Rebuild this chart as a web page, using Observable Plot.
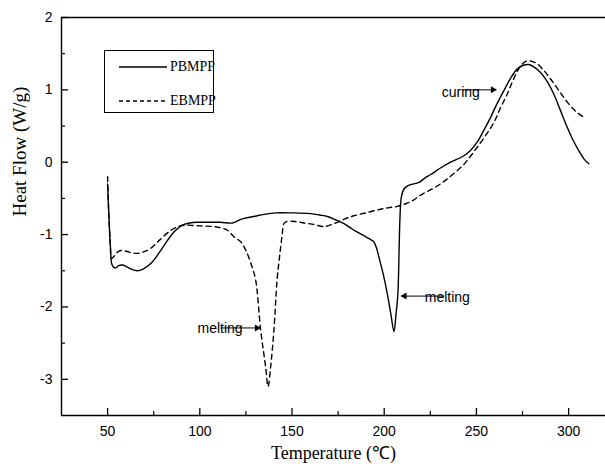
<!DOCTYPE html>
<html>
<head>
<meta charset="utf-8">
<script src="https://cdn.jsdelivr.net/npm/d3@7"></script>
<script src="https://cdn.jsdelivr.net/npm/@observablehq/plot@0.6"></script>
<style>
  body { margin: 0; background: #fff; }
  #wrap { position: relative; width: 605px; height: 470px; }
  #legend { position: absolute; left: 104px; top: 50px; width: 110px; height: 63px;
    border: 1px solid #000; box-sizing: border-box; font-family: "Liberation Serif", serif; font-size: 14px; line-height: 16px; }
  #legend .row { position: absolute; left: 13px; display: flex; align-items: center; height: 16px; }
  #legend svg { margin-right: 2px; }
</style>
</head>
<body>
<div id="wrap"></div>
<script>
// ---- data ----
const tempPBMPP = [50,50.8,51.6,52.2,53.2,54.4,56,58,60,63,66.2,69,73.4,78,82.5,86.5,90.6,94.5,98.7,105,111.3,117.7,122.2,129.4,135,141.2,150,160.1,165,169.2,174,178.2,183,187.2,192.6,194.4,196,197.1,199.5,201.7,203.6,205.3,206.4,207.4,208,208.5,209.3,210.7,212.5,214.3,218.8,222,225.2,230.5,236,243.2,247,250.5,254,257.7,261,264.9,268.5,272.2,275.5,278.4,281.5,284.8,288.5,292,295.5,299.3,302.5,305.5,308.5,311];
const hfPBMPP = [-0.30,-0.80,-1.20,-1.40,-1.45,-1.46,-1.43,-1.42,-1.44,-1.48,-1.50,-1.48,-1.40,-1.25,-1.08,-0.95,-0.87,-0.84,-0.83,-0.83,-0.83,-0.84,-0.79,-0.75,-0.72,-0.70,-0.70,-0.71,-0.73,-0.75,-0.80,-0.85,-0.93,-0.99,-1.07,-1.10,-1.20,-1.31,-1.55,-1.82,-2.10,-2.34,-2.10,-1.82,-1.30,-0.80,-0.48,-0.37,-0.33,-0.31,-0.28,-0.22,-0.17,-0.08,0.00,0.09,0.17,0.28,0.44,0.62,0.80,0.99,1.16,1.29,1.34,1.35,1.31,1.24,1.11,0.94,0.72,0.48,0.30,0.16,0.04,-0.02];

const tempEBMPP = [50,50.6,51.4,52.2,53.5,55,57.1,60,63,66.2,69.5,73.4,78,84.3,88,91.5,100,107.7,112,115,118.5,122.2,125,128,130.3,133,135.7,137,138.4,140.2,141.9,143.5,144.6,145.6,147,152,156.5,162,167.3,170.5,174.6,179,183.6,190,196.3,202,207.1,212,216.1,220,225.2,230.5,234.2,238.5,243.2,247,250.5,255,259.5,263,266.7,269.5,272.2,275,277.6,280.5,283,286.5,290.2,294.5,299.3,304,308.3];
const hfEBMPP = [-0.20,-0.70,-1.10,-1.33,-1.30,-1.25,-1.22,-1.23,-1.25,-1.26,-1.24,-1.19,-1.08,-0.94,-0.89,-0.87,-0.88,-0.89,-0.91,-0.94,-1.03,-1.10,-1.22,-1.42,-1.63,-2.32,-2.83,-3.10,-2.83,-2.32,-1.63,-1.25,-1.02,-0.85,-0.82,-0.82,-0.84,-0.86,-0.89,-0.87,-0.83,-0.78,-0.74,-0.70,-0.66,-0.63,-0.61,-0.57,-0.52,-0.45,-0.38,-0.30,-0.23,-0.14,-0.03,0.09,0.21,0.37,0.55,0.75,0.94,1.11,1.26,1.36,1.40,1.39,1.36,1.27,1.15,1.00,0.83,0.70,0.62];

const seriesNames = ["PBMPP", "EBMPP"];
const xMajorTicks = [50, 100, 150, 200, 250, 300];
const xMinorTicks = [75, 125, 175, 225, 275];
const yMajorTicks = [-3, -2, -1, 0, 1, 2];
const yMinorTicks = [-2.5, -1.5, -0.5, 0.5, 1.5];
const xTitle = "Temperature (\u2103)";
const yTitle = "Heat Flow (W/g)";

// annotations: label, text anchor point, arrow from -> to (data units)
const annoLabels = ["curing", "melting", "melting"];
const annoTextX = [241.5, 111.0, 234.2];
const annoTextY = [0.97, -2.30, -1.87];
const annoTextAnchor = ["end", "end", "start"];
const annoArrowX1 = [242.0, 111.3, 232.6];
const annoArrowX2 = [260.6, 132.6, 209.4];
const annoArrowY = [1.00, -2.29, -1.85];

// ---- build ----
const rowsP = tempPBMPP.map((t, i) => ({t, v: hfPBMPP[i], s: seriesNames[0]}));
const rowsE = tempEBMPP.map((t, i) => ({t, v: hfEBMPP[i], s: seriesNames[1]}));
const annos = annoLabels.map((l, i) => ({l, tx: annoTextX[i], ty: annoTextY[i], anchor: annoTextAnchor[i],
  x1: annoArrowX1[i], x2: annoArrowX2[i], y: annoArrowY[i], right: annoArrowX2[i] > annoArrowX1[i]}));

const W = 605, H = 470, mL = 61, mR = 0, mT = 17, mB = 55;
const fw = W - mL - mR, fh = H - mT - mB;
const sans = "'Liberation Sans', Arial, sans-serif";
const serif = "'Liberation Serif', 'Times New Roman', serif";

const chart = Plot.plot({
  width: W, height: H,
  marginLeft: mL, marginRight: mR, marginTop: mT, marginBottom: mB,
  x: {domain: [25, 320]},
  y: {domain: [-3.5, 2]},
  style: {background: "#fff", color: "#000"},
  marks: [
    // frame
    Plot.ruleX([25], {stroke: "#000", strokeWidth: 1.4}),
    Plot.ruleY([2, -3.5], {stroke: "#000", strokeWidth: 1.4}),
    // inward ticks
    Plot.tickY(yMajorTicks, {y: d => d, stroke: "#000", strokeWidth: 1.3, insetRight: fw - 7}),
    Plot.tickY(yMinorTicks, {y: d => d, stroke: "#000", strokeWidth: 1.2, insetRight: fw - 4}),
    Plot.tickX(xMajorTicks, {x: d => d, stroke: "#000", strokeWidth: 1.3, insetTop: fh - 7}),
    Plot.tickX(xMinorTicks, {x: d => d, stroke: "#000", strokeWidth: 1.2, insetTop: fh - 4}),
    // tick labels
    Plot.axisY(yMajorTicks, {tickSize: 0, tickPadding: 9, tickFormat: d => String(d), fontSize: 14, fontFamily: sans, label: null}),
    Plot.axisX(xMajorTicks, {tickSize: 0, tickPadding: 11, tickFormat: d => String(d), fontSize: 14, fontFamily: sans, label: null}),
    // axis titles
    Plot.text([yTitle], {text: d => d, frameAnchor: "left", dx: -42, rotate: -90, fontSize: 19, fontFamily: serif, fill: "#000"}),
    Plot.text([xTitle], {text: d => d, frameAnchor: "bottom", dy: 43, fontSize: 18, fontFamily: serif, fill: "#000"}),
    // curves
    Plot.line(rowsP, {x: "t", y: "v", stroke: "#000", strokeWidth: 1.4, curve: "catmull-rom"}),
    Plot.line(rowsE, {x: "t", y: "v", stroke: "#000", strokeWidth: 1.4, strokeDasharray: "5,4", curve: "catmull-rom"}),
    // annotations
    Plot.text(annos, {x: "tx", y: "ty", text: "l", textAnchor: "anchor", fontSize: 14, fontFamily: sans, fill: "#000"}),
    Plot.link(annos, {x1: "x1", x2: "x2", y1: "y", y2: "y", stroke: "#000", strokeWidth: 1}),
    Plot.dot(annos.filter(d => d.right), {x: "x2", y: "y", symbol: "triangle", r: 2.6, fill: "#000", stroke: "none", rotate: 90, dx: -3}),
    Plot.dot(annos.filter(d => !d.right), {x: "x2", y: "y", symbol: "triangle", r: 2.6, fill: "#000", stroke: "none", rotate: -90, dx: 3})
  ]
});
const wrap = document.getElementById("wrap");
wrap.appendChild(chart);

// legend overlay
const legend = document.createElement("div");
legend.id = "legend";
seriesNames.forEach((name, i) => {
  const row = document.createElement("div");
  row.className = "row";
  row.style.top = (i === 0 ? 8 : 42) + "px";
  row.innerHTML = `<svg width="50" height="10"><line x1="1" x2="49" y1="5" y2="5" stroke="#000" stroke-width="1.3" ${i === 1 ? 'stroke-dasharray="4,3"' : ''}/></svg><span>${name}</span>`;
  legend.appendChild(row);
});
wrap.appendChild(legend);
</script>
</body>
</html>
